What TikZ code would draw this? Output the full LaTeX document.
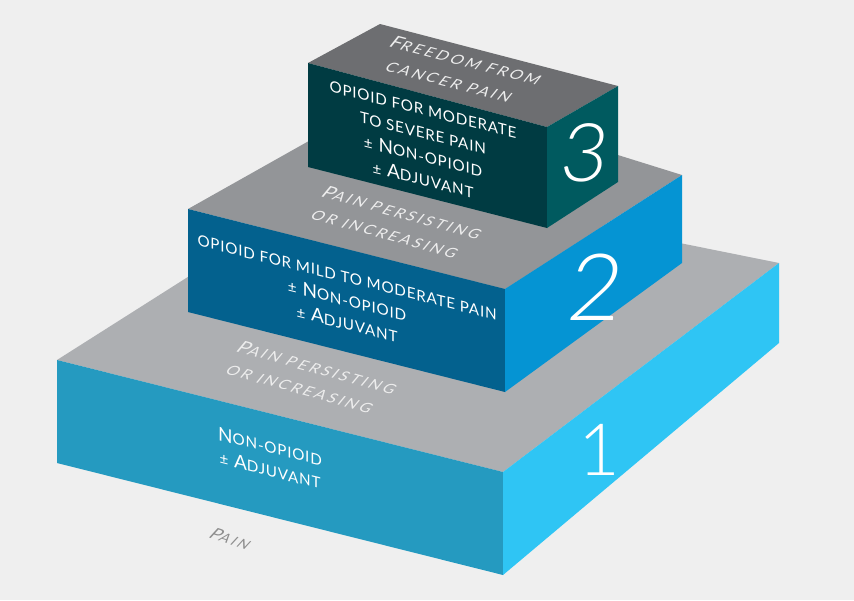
\documentclass[tikz,border=0pt]{standalone}
\usepackage{fontspec}
\setmainfont{Lato}
\newfontfamily\capfont[LetterSpace=5]{Lato}
\newfontfamily\slantfont[LetterSpace=18]{Lato}
\newfontfamily\numfont{Lato Light}
\newfontfamily\numslant[FakeSlant=0.12]{Lato Light}

\definecolor{bgc}{HTML}{EFEFEF}
\definecolor{topone}{HTML}{ADAFB2}
\definecolor{frontone}{HTML}{259AC0}
\definecolor{sideone}{HTML}{2FC5F4}
\definecolor{toptwo}{HTML}{939598}
\definecolor{fronttwo}{HTML}{03618E}
\definecolor{sidetwo}{HTML}{0594D3}
\definecolor{topthree}{HTML}{6D6E71}
\definecolor{frontthree}{HTML}{003B42}
\definecolor{sidethree}{HTML}{005A5F}
\definecolor{paingray}{HTML}{8E8E8E}

\makeatletter
\newcommand\lc[1]{{\fontsize{\fpeval{0.8*\f@size}}{0}\selectfont\MakeUppercase{#1}}}
\makeatother

\begin{document}
\begin{tikzpicture}[x=1pt,y=-1pt]

    \tikzstyle{facetext} = [text=white,align=center,inner sep=0pt,yslant=-0.25,
        font=\capfont\fontsize{19}{23.5}\selectfont]
    \tikzstyle{toptext} = [text=white!93!black,align=center,inner sep=0pt,
        rotate=-15.5,xslant=0.45,yscale=0.9,
        font=\slantfont\fontsize{19.5}{27}\selectfont]
    \tikzstyle{numtext} = [text=white,inner sep=0pt]

    \fill[bgc] (0,0) rectangle (854,600);
    \useasboundingbox (0,0) rectangle (854,600);

    \fill[topone]   (57,360) -- (347,176) -- (779,263) -- (503,472) -- cycle;
    \fill[frontone] (57,360) -- (503,472) -- (503,575) -- (57,463) -- cycle;
    \fill[sideone]  (503,472) -- (779,263) -- (779,343) -- (503,575) -- cycle;

    \fill[toptwo]   (188,209) -- (403,88) -- (682,175) -- (505,289) -- cycle;
    \fill[fronttwo] (188,209) -- (505,289) -- (505,392) -- (188,312) -- cycle;
    \fill[sidetwo]  (505,289) -- (682,175) -- (682,263) -- (505,392) -- cycle;

    \fill[topthree]   (308,63) -- (380,24) -- (618,86) -- (547,127) -- cycle;
    \fill[frontthree] (308,63) -- (547,127) -- (547,228) -- (308,167) -- cycle;
    \fill[sidethree]  (547,127) -- (618,86) -- (618,182) -- (547,228) -- cycle;

    \node[toptext,rotate=1] (freedom) at (458,71) {F\lc{reedom from}\\\lc{cancer pain}};
    \node[facetext] (stepthree)  at (423,145) {\lc{opioid for moderate}\\\lc{to severe pain}\\
        \lc{±} N\lc{on-opioid}\\\lc{±} A\lc{djuvant}};
    \node[numtext,font=\numslant\fontsize{81}{81}\selectfont] (numthree) at (582,153) {3};

    \node[toptext]  (persisttwo) at (394,223) {P\lc{ain persisting}\\\lc{or increasing}};
    \node[facetext] (steptwo)    at (347,301) {\lc{opioid for mild to moderate pain}\\
        \lc{±} N\lc{on-opioid}\\\lc{±} A\lc{djuvant}};
    \node[numtext,font=\numslant\fontsize{93}{93}\selectfont] (numtwo) at (592,287) {2};

    \node[toptext]  (persistone) at (309,378) {P\lc{ain persisting}\\\lc{or increasing}};
    \node[facetext] (stepone)    at (270,458) {N\lc{on-opioid}\\\lc{±} A\lc{djuvant}};
    \node[numtext,font=\numfont\fontsize{72}{72}\selectfont] (numone) at (599,450) {1};

    \node[toptext,text=paingray,rotate=-3,font=\slantfont\fontsize{18}{18}\selectfont]
        (pain) at (231,539) {P\lc{ain}};

\end{tikzpicture}
\end{document}
